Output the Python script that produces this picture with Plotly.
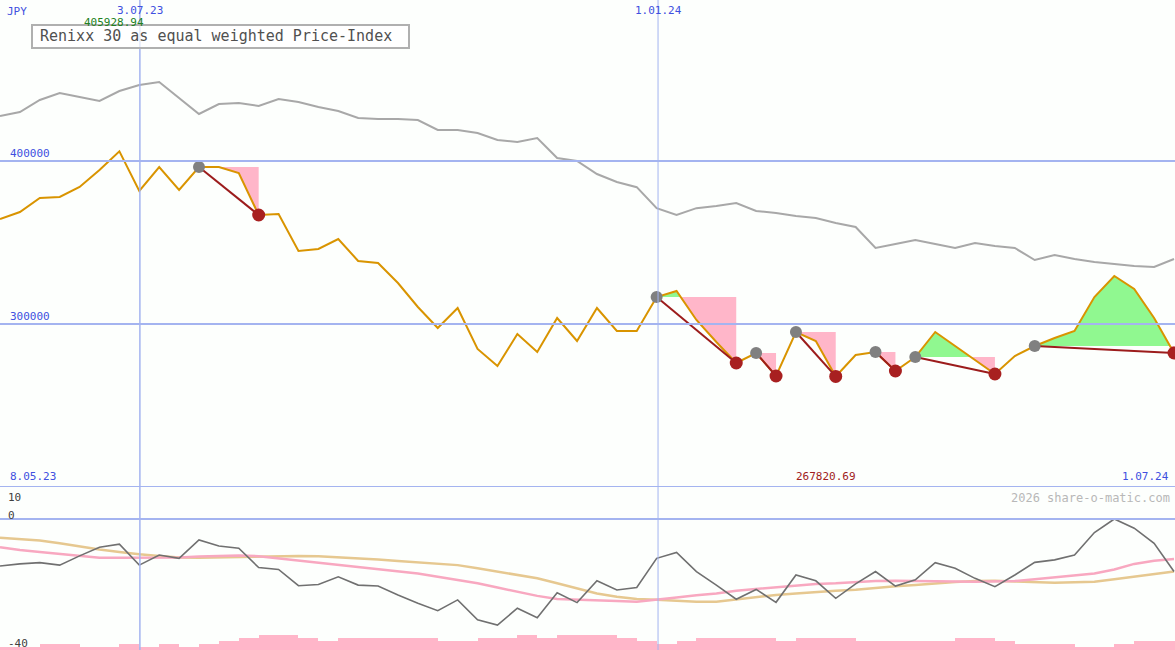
import plotly.graph_objects as go

idx = list(range(60))
price = [364417, 368711, 377300, 377914, 384049, 394479, 405929, 381595, 396319, 382209,
         396319, 396319, 392638, 366871, 367485, 344785, 346012, 352147, 338650, 337423,
         325153, 310429, 297546, 309816, 284662, 274233, 293868, 282826, 303681, 289570,
         309816, 295705, 295705, 316564, 320245, 302455, 288957, 276070, 282208, 268098,
         295091, 289570, 267821, 280980, 282826, 271170, 279754, 295091, 286503, 277913,
         269324, 280367, 286503, 291410, 295705, 316564, 329448, 321473, 303681, 282208]
bench = [427608, 430062, 437424, 441718, 439264, 436810, 442945, 446626, 448467, 438651,
         428835, 434970, 435583, 433743, 438037, 436197, 433129, 430675, 426381, 425767,
         425767, 425154, 419019, 419019, 417178, 412884, 411657, 414111, 401841, 400000,
         392025, 387117, 383950, 371078, 366870, 371078, 372394, 374234, 369326, 368099,
         366259, 365030, 361963, 359509, 346625, 349079, 351533, 349079, 346625, 349693,
         347853, 346625, 339263, 342330, 339877, 338036, 336809, 335582, 334968, 339877]
osc = [-15.3, -14.6, -14.2, -15.0, -12.0, -9.2, -8.2, -15.0, -11.7, -12.8,
       -6.8, -8.8, -9.5, -15.8, -16.4, -21.7, -21.3, -18.8, -21.5, -21.8,
       -24.7, -27.4, -29.8, -26.3, -32.8, -34.5, -29.0, -32.1, -24.0, -27.2,
       -20.1, -23.1, -22.3, -12.8, -10.9, -17.1, -21.5, -26.1, -22.9, -27.1,
       -18.2, -20.1, -25.8, -21.1, -17.1, -21.8, -19.8, -14.2, -16.0, -19.3,
       -22.0, -18.2, -14.1, -13.3, -11.7, -4.4, 0.0, -3.0, -7.9, -17.1]
avg_fast = [-9.2, -10.1, -10.7, -11.4, -12.1, -12.6, -12.6, -12.6, -12.6, -12.5,
            -12.2, -12.1, -11.9, -12.1, -12.8, -13.3, -14.0, -14.7, -15.5, -16.3,
            -16.9, -17.7, -18.8, -19.8, -20.9, -22.3, -23.7, -25.0, -26.0, -26.3,
            -26.4, -26.7, -26.9, -26.3, -25.5, -24.8, -24.2, -23.3, -22.8, -22.2,
            -21.7, -21.1, -20.9, -20.5, -20.2, -20.1, -20.1, -20.2, -20.3, -20.4,
            -20.4, -20.2, -19.6, -19.0, -18.2, -17.7, -16.4, -14.6, -13.6, -13.0]
avg_slow = [-6.1, -6.5, -7.0, -7.9, -9.0, -9.9, -10.7, -11.5, -12.0, -12.5,
            -12.6, -12.5, -12.2, -12.1, -12.0, -12.0, -12.1, -12.4, -12.7, -13.2,
            -13.7, -14.1, -14.5, -15.0, -16.0, -17.1, -18.2, -19.3, -20.9, -22.5,
            -24.2, -25.3, -26.0, -26.3, -26.7, -26.9, -26.9, -26.1, -25.3, -24.7,
            -24.2, -23.7, -23.3, -23.0, -22.4, -21.9, -21.5, -20.9, -20.5, -20.2,
            -20.1, -20.3, -20.5, -20.7, -20.6, -20.4, -19.6, -18.8, -17.9, -17.1]
volume = [1, 1, 2, 2, 1, 1, 2, 1, 2, 1, 2, 3, 4, 5, 5, 4, 3, 4, 4, 4,
          4, 4, 3, 3, 4, 4, 5, 4, 5, 5, 5, 4, 3, 2, 3, 4, 4, 4, 4, 3,
          4, 4, 4, 3, 3, 3, 3, 3, 4, 4, 3, 2, 2, 2, 1, 1, 2, 3, 3, 3]
peaks = [10, 33, 38, 40, 44, 46, 52]
troughs = [13, 37, 39, 42, 45, 50, 59]
date_ticks = {7.03: "3.07.23", 33.07: "1.01.24"}

BLUE = "#a4b4f0"
ORANGE = "#d99400"
PINK = "#ffb6c9"
GREEN = "#90f890"
LOW = -42.6

fig = go.Figure()

for p, t in zip(peaks, troughs):
    ref = price[p]
    xs, ys = [], []
    for i in range(p, t + 1):
        if i > p:
            a, b = price[i - 1] - ref, price[i] - ref
            if a * b < 0:
                f = a / (a - b)
                xs.append(i - 1 + f); ys.append(ref)
        xs.append(i); ys.append(price[i])
    lo = [min(v, ref) for v in ys]
    hi = [max(v, ref) for v in ys]
    for clip, col in ((lo, PINK), (hi, GREEN)):
        fig.add_trace(go.Scatter(x=xs, y=[ref] * len(xs), mode="lines", line=dict(width=0),
                                 hoverinfo="skip", showlegend=False))
        fig.add_trace(go.Scatter(x=xs, y=clip, mode="lines", line=dict(width=0), fill="tonexty",
                                 fillcolor=col, hoverinfo="skip", showlegend=False))

fig.add_trace(go.Scatter(x=idx, y=bench, mode="lines", line=dict(color="#a8a8a8", width=2),
                         showlegend=False))
fig.add_trace(go.Scatter(x=idx, y=price, mode="lines", line=dict(color=ORANGE, width=2),
                         showlegend=False))
for p, t in zip(peaks, troughs):
    fig.add_trace(go.Scatter(x=[p, t], y=[price[p], price[t]], mode="lines",
                             line=dict(color="#9c1c1c", width=2), showlegend=False))
fig.add_trace(go.Scatter(x=peaks, y=[price[i] for i in peaks], mode="markers",
                         marker=dict(color="#808080", size=12), showlegend=False))
fig.add_trace(go.Scatter(x=troughs, y=[price[i] for i in troughs], mode="markers",
                         marker=dict(color="#a82020", size=13), showlegend=False))

fig.add_trace(go.Bar(x=[i + 0.5 for i in idx], y=volume, base=LOW, width=1.0,
                     marker=dict(color=PINK, line=dict(width=0)), yaxis="y2", showlegend=False))
fig.add_trace(go.Scatter(x=idx, y=avg_slow, mode="lines", line=dict(color="#e6c890", width=2.5),
                         yaxis="y2", showlegend=False))
fig.add_trace(go.Scatter(x=idx, y=avg_fast, mode="lines", line=dict(color="#f8a8c0", width=2.5),
                         yaxis="y2", showlegend=False))
fig.add_trace(go.Scatter(x=idx, y=osc, mode="lines", line=dict(color="#707070", width=1.6),
                         yaxis="y2", showlegend=False))

shapes = []
for v in (400000, 300000, 200000):
    shapes.append(dict(type="line", xref="paper", x0=0, x1=1, yref="y", y0=v, y1=v,
                       line=dict(color=BLUE, width=2)))
shapes.append(dict(type="line", xref="paper", x0=0, x1=1, yref="y2", y0=0, y1=0,
                   line=dict(color=BLUE, width=2)))
for xv in date_ticks:
    shapes.append(dict(type="line", xref="x", x0=xv, x1=xv, yref="paper", y0=0, y1=1,
                       line=dict(color=BLUE, width=1.5 if xv < 10 else 1)))
shapes.append(dict(type="rect", xref="paper", yref="paper", x0=32 / 1175, x1=409 / 1175,
                   y0=1 - 48 / 650, y1=1 - 25 / 650, line=dict(color="#b0b0b0", width=2),
                   fillcolor="rgba(255,255,255,0.7)"))

F = "DejaVu Sans Mono"
ann = [
    dict(text="Renixx 30 as equal weighted Price-Index", x=38 / 1175, y=1 - 36.5 / 650,
         xanchor="left", yanchor="middle", font=dict(size=15, color="#505050")),
    dict(text="JPY", x=5 / 1175, y=1 - 3 / 650, xanchor="left", yanchor="top",
         font=dict(size=11, color="#4050e0")),
    dict(text="405928.94", x=82 / 1175, y=1 - 14 / 650, xanchor="left", yanchor="top",
         font=dict(size=11, color="#208020")),
    dict(text="400000", x=8 / 1175, y=1 - 162 / 650, xanchor="left", yanchor="bottom",
         font=dict(size=11, color="#4050e0")),
    dict(text="300000", x=8 / 1175, y=1 - 325 / 650, xanchor="left", yanchor="bottom",
         font=dict(size=11, color="#4050e0")),
    dict(text="8.05.23", x=8 / 1175, y=1 - 485 / 650, xanchor="left", yanchor="bottom",
         font=dict(size=11, color="#4050e0")),
    dict(text="1.07.24", x=1171 / 1175, y=1 - 485 / 650, xanchor="right", yanchor="bottom",
         font=dict(size=11, color="#4050e0")),
    dict(text="267820.69", x=826 / 1175, y=1 - 485 / 650, xanchor="center", yanchor="bottom",
         font=dict(size=11, color="#a01c1c")),
    dict(text="2026 share-o-matic.com", x=1172 / 1175, y=1 - 489 / 650, xanchor="right",
         yanchor="top", font=dict(size=12, color="#b8b8b8")),
    dict(text="10", x=6 / 1175, y=1 - 489 / 650, xanchor="left", yanchor="top",
         font=dict(size=11, color="#404040")),
    dict(text="0", x=6 / 1175, y=1 - 507 / 650, xanchor="left", yanchor="top",
         font=dict(size=11, color="#404040")),
    dict(text="-40", x=6 / 1175, y=1 - 635 / 650, xanchor="left", yanchor="top",
         font=dict(size=11, color="#404040")),
]
for xv, lab in date_ticks.items():
    ann.append(dict(text=lab, x=xv, xref="x", y=1 - 2 / 650, xanchor="center", yanchor="top",
                    font=dict(size=11, color="#4050e0")))
for a in ann:
    a.setdefault("xref", "paper")
    a["yref"] = "paper"
    a["showarrow"] = False
    a["font"]["family"] = F

fig.update_layout(
    width=1175, height=650, margin=dict(l=0, r=0, t=0, b=0),
    paper_bgcolor="#fdfffd", plot_bgcolor="#fdfffd",
    xaxis=dict(range=[0, 59.05], visible=False, fixedrange=True),
    yaxis=dict(range=[200000, 498774], domain=[163 / 650, 1], visible=False),
    yaxis2=dict(range=[-42.6, 10.4], domain=[0, 163 / 650], visible=False),
    shapes=shapes, annotations=ann, bargap=0, hovermode=False,
)
fig.write_html("out.html", config={"displayModeBar": False},
               post_script="document.body.style.margin='0';document.body.style.overflow='hidden';")
